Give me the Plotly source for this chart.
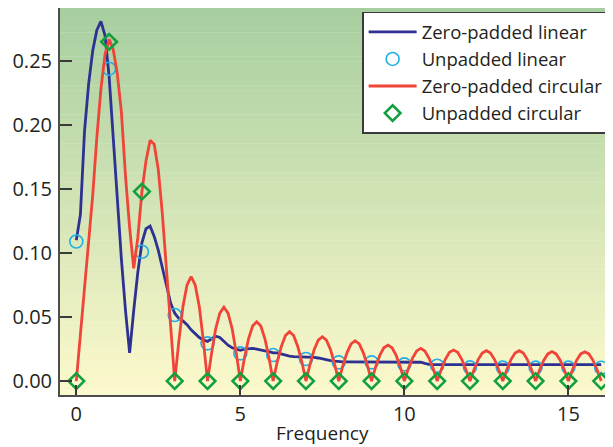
import numpy as np
import plotly.graph_objects as go

# ---------------- data ----------------
freq_fine = np.arange(0, 129) * 0.125          # zero-padded frequency grid (0..16)
freq_int = list(range(17))                      # unpadded frequency bins

zero_padded_linear = [
    0.110, 0.130, 0.195, 0.232, 0.258, 0.274, 0.281, 0.270,
    0.238, 0.190, 0.140, 0.095, 0.055, 0.022, 0.055, 0.085,
    0.108, 0.119, 0.121, 0.113, 0.102, 0.088, 0.074, 0.061,
    0.053, 0.049, 0.047, 0.044, 0.040, 0.037, 0.034, 0.032,
    0.031, 0.033, 0.035, 0.034, 0.031, 0.028, 0.026, 0.025,
    0.024, 0.025, 0.0255, 0.0255, 0.025, 0.024, 0.0235, 0.023,
    0.022, 0.022, 0.021, 0.020, 0.0195, 0.019, 0.019, 0.019,
    0.0188, 0.0188, 0.0185, 0.018, 0.0172, 0.0165, 0.016, 0.0155,
    0.0150, 0.0150, 0.0150, 0.0150, 0.0150, 0.0150, 0.0149, 0.0149,
    0.0149, 0.0149, 0.0149, 0.0149, 0.0148, 0.0148, 0.0148, 0.0148,
    0.0148, 0.0148, 0.0148, 0.0148, 0.0147, 0.0138, 0.0130, 0.0129,
    0.0129, 0.0129, 0.0129, 0.0129, 0.0129, 0.0129, 0.0129, 0.0129,
    0.0129, 0.0128, 0.0128, 0.0128, 0.0128, 0.0128, 0.0128, 0.0128,
    0.0128, 0.0128, 0.0128, 0.0128, 0.0128, 0.0128, 0.0128, 0.0128,
    0.0128, 0.0128, 0.0128, 0.0128, 0.0128, 0.0128, 0.0128, 0.0128,
    0.0128, 0.0128, 0.0128, 0.0128, 0.0128, 0.0128, 0.0128, 0.0128,
    0.0128,
]

unpadded_linear = [0.109, 0.244, 0.101, 0.0516, 0.0294, 0.0216, 0.0203, 0.0172,
                   0.0146, 0.0146, 0.0130, 0.0120, 0.0107, 0.0105, 0.0105,
                   0.0105, 0.0104]

zero_padded_circular = [
    0.000, 0.035, 0.072, 0.105, 0.145, 0.190, 0.228, 0.255,
    0.267, 0.259, 0.240, 0.210, 0.160, 0.120, 0.088, 0.112,
    0.148, 0.172, 0.188, 0.185, 0.165, 0.130, 0.085, 0.040,
    0.000, 0.031, 0.058, 0.075, 0.0815, 0.075, 0.058, 0.031,
    0.000, 0.022, 0.041, 0.053, 0.0576, 0.053, 0.041, 0.022,
    0.000, 0.018, 0.033, 0.043, 0.0463, 0.043, 0.033, 0.018,
    0.000, 0.015, 0.027, 0.0355, 0.0385, 0.0355, 0.027, 0.015,
    0.000, 0.013, 0.0245, 0.032, 0.0346, 0.032, 0.0245, 0.013,
    0.000, 0.012, 0.022, 0.029, 0.0315, 0.029, 0.022, 0.012,
    0.000, 0.011, 0.020, 0.026, 0.0281, 0.026, 0.020, 0.011,
    0.000, 0.010, 0.018, 0.0235, 0.0255, 0.0235, 0.018, 0.010,
    0.000, 0.009, 0.017, 0.0224, 0.0242, 0.0224, 0.017, 0.009,
    0.000, 0.009, 0.0168, 0.0219, 0.0237, 0.0219, 0.0168, 0.009,
    0.000, 0.009, 0.0168, 0.0219, 0.0237, 0.0219, 0.0168, 0.009,
    0.000, 0.0088, 0.0163, 0.0212, 0.0230, 0.0212, 0.0163, 0.0088,
    0.000, 0.0088, 0.0162, 0.0212, 0.0229, 0.0212, 0.0162, 0.0088,
    0.000,
]

unpadded_circular = [0.0, 0.265, 0.148, 0.0, 0.0, 0.0, 0.0, 0.0, 0.0,
                     0.0, 0.0, 0.0, 0.0, 0.0, 0.0, 0.0, 0.0]

x_ticks = [0, 5, 10, 15]
y_ticks = [0.00, 0.05, 0.10, 0.15, 0.20, 0.25]

# ---------------- figure ----------------
FONT = "Open Sans"
TXT = "#231f20"

fig = go.Figure()
fig.add_trace(go.Scatter(x=freq_fine, y=zero_padded_linear, mode="lines",
                         name="Zero-padded linear",
                         line=dict(color="#2e3192", width=2.8)))
fig.add_trace(go.Scatter(x=freq_int, y=unpadded_linear, mode="markers",
                         name="Unpadded linear",
                         marker=dict(symbol="circle-open", size=13,
                                     color="#1fb0e8", line=dict(width=1.6))))
fig.add_trace(go.Scatter(x=freq_fine, y=zero_padded_circular, mode="lines",
                         name="Zero-padded circular",
                         line=dict(color="#f04438", width=2.8)))
fig.add_trace(go.Scatter(x=freq_int, y=unpadded_circular, mode="markers",
                         name="Unpadded circular",
                         marker=dict(symbol="diamond-open", size=12,
                                     color="#12a03e", line=dict(width=2.6))))

# vertical gradient background (green top -> pale yellow bottom)
top = np.array([166, 206, 159])
bot = np.array([253, 249, 204])
n = 80
shapes = []
for i in range(n):
    t = (i + 0.5) / n
    c = top + (bot - top) * t
    shapes.append(dict(type="rect", xref="paper", yref="paper",
                       x0=0, x1=1, y0=1 - (i + 1) / n - 0.001, y1=1 - i / n,
                       fillcolor="rgb(%d,%d,%d)" % tuple(c.round()),
                       line=dict(width=0), layer="below"))

# page body has an 8px margin: size/margins compensate so the plot lands
# at the reference position inside the 613x447 window
fig.update_layout(
    width=605, height=439,
    margin=dict(l=52, r=0, t=0, b=52),
    paper_bgcolor="white",
    plot_bgcolor="rgba(0,0,0,0)",
    shapes=shapes,
    font=dict(family=FONT, size=20, color=TXT),
    showlegend=True,
    legend=dict(x=0.993, y=0.99, xanchor="right", yanchor="top",
                bgcolor="white", bordercolor="#3a3a3a", borderwidth=1.5,
                font=dict(family=FONT, size=18.5, color=TXT),
                itemwidth=48, tracegroupgap=0),
    xaxis=dict(range=[-0.497, 16.36], tickvals=x_ticks, ticks="inside",
               ticklen=10, tickwidth=1.5, tickcolor="#3a3a3a",
               showline=True, linecolor="#4d4d4d", linewidth=2,
               showgrid=False, zeroline=False,
               tickfont=dict(family=FONT, size=20, color=TXT)),
    yaxis=dict(range=[-0.0109, 0.2914], tickvals=y_ticks, tickformat=".2f",
               ticks="inside", ticklen=12, tickwidth=1.5, tickcolor="#3a3a3a",
               showline=True, linecolor="#4d4d4d", linewidth=2,
               showgrid=False, zeroline=False, ticklabelstandoff=2,
               tickfont=dict(family=FONT, size=20, color=TXT)),
    annotations=[dict(text="Frequency", xref="x", x=7.5, yref="paper", y=0,
                      yshift=-23, yanchor="top", showarrow=False,
                      font=dict(family=FONT, size=19, color=TXT))],
)

fig.write_html("out.html")
